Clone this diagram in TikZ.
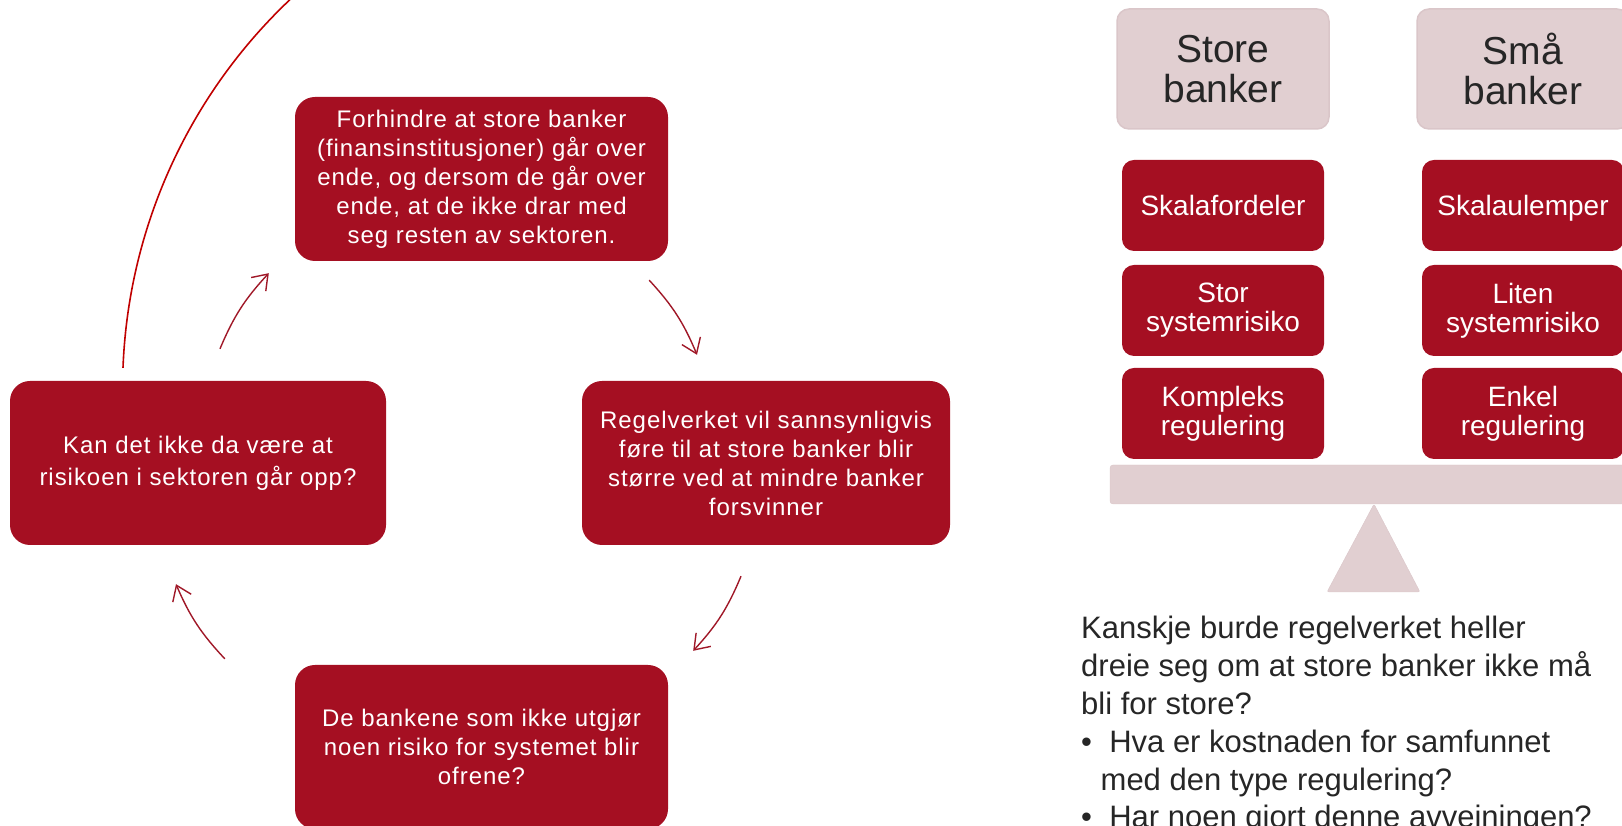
\documentclass[tikz,border=0pt]{standalone}
\usepackage{fontspec}
\setmainfont{Liberation Sans}
\newfontfamily\cyclefont[LetterSpace=4]{Liberation Sans}
\usetikzlibrary{arrows.meta}
\definecolor{boxred}{HTML}{A50F22}
\definecolor{arrowred}{HTML}{A01828}
\definecolor{arcred}{HTML}{C00000}
\definecolor{scalepink}{HTML}{E1CFD1}
\definecolor{scaleedge}{HTML}{DAC6C9}
\definecolor{notegray}{HTML}{262626}
\begin{document}
\begin{tikzpicture}[x=1pt,y=1pt,
    cyclebox/.style={fill=boxred, rounded corners=20pt, text=white, align=center, inner sep=0pt,
        minimum width=373pt, minimum height=164pt, font=\cyclefont\fontsize{24}{29}\selectfont},
    cyc/.style={draw=arrowred, line width=1.4pt, -{Straight Barb[length=14pt,width=20pt]}},
    headbox/.style={fill=scalepink, draw=scaleedge, line width=1.5pt, rounded corners=12pt, inner sep=0pt,
        minimum width=212pt, minimum height=120pt, text=notegray, align=center, font=\fontsize{39}{40}\selectfont},
    weightbox/.style={fill=boxred, rounded corners=12pt, inner sep=0pt, minimum width=202pt, minimum height=91pt,
        text=white, align=center, font=\fontsize{28}{29}\selectfont},
    oneline/.style={text height=20pt, text depth=0pt}]
    \useasboundingbox (0,0) rectangle (1622,826);
    \node[cyclebox] (forhindre) at (481.5,647) {Forhindre at store banker\\(finansinstitusjoner) går over\\ende, og dersom de går over\\ende, at de ikke drar med\\seg resten av sektoren.};
    \node[cyclebox, minimum width=368pt] (regelverk) at (766,363) {Regelverket vil sannsynligvis\\føre til at store banker blir\\større ved at mindre banker\\forsvinner};
    \node[cyclebox, minimum width=376pt, font=\cyclefont\fontsize{24}{32}\selectfont] (risiko) at (198,363) {Kan det ikke da være at\\risikoen i sektoren går opp?};
    \node[cyclebox] (ofrene) at (481.5,79) {De bankene som ikke utgjør\\noen risiko for systemet blir\\ofrene?};
    \draw[cyc] ([shift={(22,32)}]risiko.north) to[bend left=10] ([shift={(-26,-12)}]forhindre.south west);
    \draw[cyc] ([shift={(-19,-19)}]forhindre.south east) to[bend left=10] ([shift={(-69,26)}]regelverk.north);
    \draw[cyc] ([shift={(-25,-31)}]regelverk.south) to[bend left=10] ([shift={(25,14)}]ofrene.north east);
    \draw[cyc] ([shift={(-70,6)}]ofrene.north west) to[bend left=10] ([shift={(-22,-39)}]risiko.south);
    \draw[arcred, line width=1.6pt] ([shift={(-75,13)}]risiko.north) arc[start angle=177.8, end angle=133, radius=535];
    \filldraw[fill=scalepink, draw=scaleedge, rounded corners=3pt] (1110,322) rectangle (1640,361);
    \filldraw[fill=scalepink, draw=scaleedge, rounded corners=2pt] (1374,322) -- (1420,234) -- (1327,234) -- cycle;
    \node[headbox] (storeb) at (1223,757) {Store\\banker};
    \node[headbox] (smab) at (1523,757) {Små\\banker};
    \node[weightbox, oneline] (skalaford) at (1223,620.5) {Skalafordeler};
    \node[weightbox] (stor) at (1223,515.5) {Stor\\systemrisiko};
    \node[weightbox] (kompleks) at (1223,412.5) {Kompleks\\regulering};
    \node[weightbox, oneline] (skalaulemp) at (1523,620.5) {Skalaulemper};
    \node[weightbox] (liten) at (1523,515.5) {Liten\\systemrisiko};
    \node[weightbox] (enkel) at (1523,412.5) {Enkel\\regulering};
    \node[anchor=base west, inner sep=0pt, text=notegray, align=left, font=\fontsize{31}{37.8}\selectfont] (note) at (1081,-2) {Kanskje burde regelverket heller\\dreie seg om at store banker ikke må\\bli for store?\\\textbullet\ \ Hva er kostnaden for samfunnet\\\hphantom{\textbullet}\ med den type regulering?\\\textbullet\ \ Har noen gjort denne avveiningen?};
\end{tikzpicture}
\end{document}
